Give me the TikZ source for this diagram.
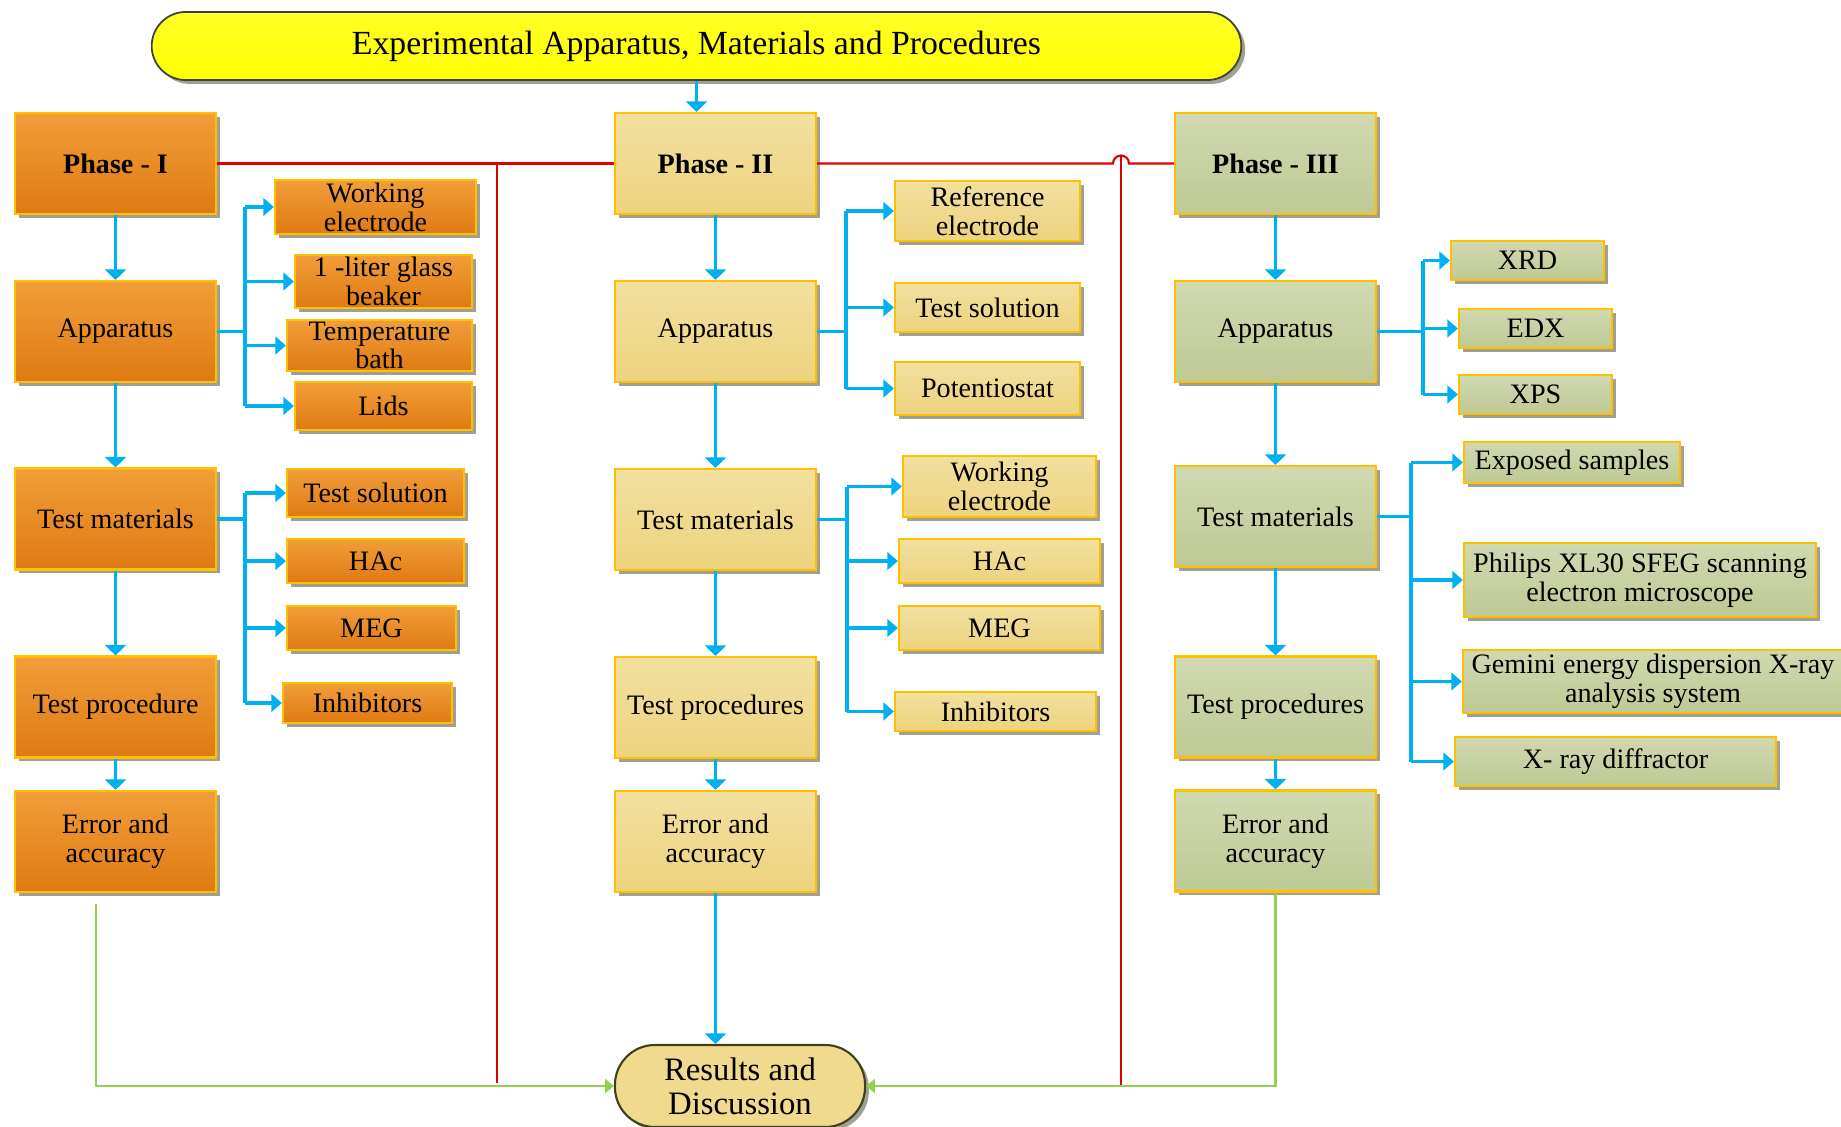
\documentclass[tikz,border=0pt]{standalone}
\usepackage{fontspec}
\setmainfont{Liberation Serif}
\usetikzlibrary{arrows.meta,shadows}
\definecolor{orangetop}{RGB}{241,158,58}
\definecolor{orangebot}{RGB}{223,122,18}
\definecolor{wheattop}{RGB}{242,224,160}
\definecolor{wheatbot}{RGB}{237,211,126}
\definecolor{sagetop}{RGB}{208,217,176}
\definecolor{sagebot}{RGB}{190,201,148}
\definecolor{boxedge}{RGB}{255,192,0}
\definecolor{shadowgray}{RGB}{160,160,146}
\definecolor{flowblue}{RGB}{0,176,240}
\definecolor{sepred}{RGB}{225,0,0}
\definecolor{fbgreen}{RGB}{146,208,80}
\definecolor{resfill}{RGB}{240,218,142}
\definecolor{resedge}{RGB}{60,64,30}
\tikzset{
    cellbox/.style={draw=boxedge, line width=0.6pt, align=center, inner sep=0.5pt,
        font=\fontsize{8}{8.2}\selectfont,
        drop shadow={shadow xshift=1.1pt, shadow yshift=-1.1pt, fill=shadowgray, opacity=1}},
    mainbox/.style={cellbox, minimum width=2.01cm, minimum height=1.01cm},
    phasename/.style={font=\fontsize{8}{8.2}\selectfont\bfseries},
    phaseone/.style={top color=orangetop, bottom color=orangebot},
    phasetwo/.style={top color=wheattop, bottom color=wheatbot},
    phasethree/.style={top color=sagetop, bottom color=sagebot},
    titlebox/.style={draw=black!75, line width=0.5pt, top color=yellow!85!white, bottom color=yellow,
        minimum width=10.89cm, minimum height=0.68cm, rounded corners=0.34cm,
        font=\fontsize{9.6}{10}\selectfont,
        drop shadow={shadow xshift=1.1pt, shadow yshift=-1.1pt, fill=shadowgray, opacity=1}},
    resbox/.style={draw=resedge, line width=0.6pt, fill=resfill, align=center,
        minimum width=2.5cm, minimum height=0.82cm, rounded corners=0.4cm,
        font=\fontsize{9.3}{9.6}\selectfont,
        drop shadow={shadow xshift=1.1pt, shadow yshift=-1.1pt, fill=shadowgray, opacity=1}},
    flow/.style={draw=flowblue, line width=1.1pt, -{Triangle[width=6pt,length=3pt]}},
    sideflow/.style={draw=flowblue, line width=1.1pt, -{Triangle[width=5pt,length=3pt]}},
    bus/.style={draw=flowblue, line width=1.1pt},
    sepline/.style={draw=sepred, line width=0.6pt},
    feedback/.style={draw=fbgreen, line width=0.6pt, -{Triangle[width=4pt,length=2.5pt]}},
}

\begin{document}
\begin{tikzpicture}[x=0.01cm, y=-0.01cm]
    \useasboundingbox (0,0) rectangle (1841,1127);

    \node[titlebox] (top) at (696.5,46) {Experimental Apparatus, Materials and Procedures};

    % Phase I column
    \node[mainbox, phaseone, phasename] (p1) at (115.5,163.5) {Phase - I};
    \node[mainbox, phaseone] (app1) at (115.5,331.5) {Apparatus};
    \node[mainbox, phaseone] (tm1) at (115.5,519) {Test materials};
    \node[mainbox, phaseone] (tp1) at (115.5,707) {Test procedure};
    \node[mainbox, phaseone] (ea1) at (115.5,841.5) {Error and\\accuracy};

    \node[cellbox, phaseone, minimum width=2.01cm, minimum height=0.54cm] (we1) at (375.5,207) {Working\\electrode};
    \node[cellbox, phaseone, minimum width=1.77cm, minimum height=0.53cm] (bk1) at (383.5,281.5) {1 -liter glass\\beaker};
    \node[cellbox, phaseone, minimum width=1.85cm, minimum height=0.49cm] (tb1) at (379.5,345.5) {Temperature\\bath};
    \node[cellbox, phaseone, minimum width=1.77cm, minimum height=0.48cm] (lid1) at (383.5,406) {Lids};
    \node[cellbox, phaseone, minimum width=1.77cm, minimum height=0.48cm] (ts1) at (375.5,493) {Test solution};
    \node[cellbox, phaseone, minimum width=1.77cm, minimum height=0.44cm] (hac1) at (375.5,561) {HAc};
    \node[cellbox, phaseone, minimum width=1.69cm, minimum height=0.44cm] (meg1) at (371.5,628) {MEG};
    \node[cellbox, phaseone, minimum width=1.69cm, minimum height=0.40cm] (inh1) at (367.5,703) {Inhibitors};

    % Phase II column
    \node[mainbox, phasetwo, phasename] (p2) at (715.5,163.5) {Phase - II};
    \node[mainbox, phasetwo] (app2) at (715.5,331.5) {Apparatus};
    \node[mainbox, phasetwo] (tm2) at (715.5,519.5) {Test materials};
    \node[mainbox, phasetwo] (tp2) at (715.5,707.5) {Test procedures};
    \node[mainbox, phasetwo] (ea2) at (715.5,841.5) {Error and\\accuracy};

    \node[cellbox, phasetwo, minimum width=1.85cm, minimum height=0.60cm] (re2) at (987.5,211) {Reference\\electrode};
    \node[cellbox, phasetwo, minimum width=1.85cm, minimum height=0.49cm] (ts2) at (987.5,307.5) {Test solution};
    \node[cellbox, phasetwo, minimum width=1.85cm, minimum height=0.53cm] (pot2) at (987.5,388.5) {Potentiostat};
    \node[cellbox, phasetwo, minimum width=1.93cm, minimum height=0.61cm] (we2) at (999.5,486.5) {Working\\electrode};
    \node[cellbox, phasetwo, minimum width=2.01cm, minimum height=0.44cm] (hac2) at (999.5,561) {HAc};
    \node[cellbox, phasetwo, minimum width=2.01cm, minimum height=0.44cm] (meg2) at (999.5,628) {MEG};
    \node[cellbox, phasetwo, minimum width=2.01cm, minimum height=0.39cm] (inh2) at (995.5,711.5) {Inhibitors};

    % Phase III column
    \node[mainbox, phasethree, phasename] (p3) at (1275.5,163.5) {Phase - III};
    \node[mainbox, phasethree] (app3) at (1275.5,331.5) {Apparatus};
    \node[mainbox, phasethree] (tm3) at (1275.5,516.5) {Test materials};
    \node[mainbox, phasethree] (tp3) at (1275.5,707) {Test procedures};
    \node[mainbox, phasethree] (ea3) at (1275.5,841) {Error and\\accuracy};

    \node[cellbox, phasethree, minimum width=1.53cm, minimum height=0.39cm] (xrd3) at (1527.5,260.5) {XRD};
    \node[cellbox, phasethree, minimum width=1.53cm, minimum height=0.39cm] (edx3) at (1535.5,328.5) {EDX};
    \node[cellbox, phasethree, minimum width=1.53cm, minimum height=0.39cm] (xps3) at (1535.5,394.5) {XPS};
    \node[cellbox, phasethree, minimum width=2.16cm, minimum height=0.41cm] (exp3) at (1572,462.5) {Exposed samples};
    \node[cellbox, phasethree, minimum width=3.52cm, minimum height=0.74cm] (sem3) at (1640,580) {Philips XL30 SFEG scanning\\electron microscope};
    \node[cellbox, phasethree, minimum width=3.80cm, minimum height=0.63cm] (gem3) at (1653,681.5) {Gemini energy dispersion X-ray\\analysis system};
    \node[cellbox, phasethree, minimum width=3.21cm, minimum height=0.49cm] (xdf3) at (1615.5,761.5) {X- ray diffractor};

    \node[resbox] (res) at (740,1086) {Results and\\Discussion};

    % separators
    \coordinate (cutL) at (497,1083);
    \coordinate (cutR) at (1121,1087);
    \draw[sepline] (p1.east) -- (p2.west);
    \draw[sepline] (p1.east -| cutL) -- (cutL);
    \draw[sepline] (p2.east) -- ([xshift=-0.08cm]p2.east -| cutR) arc[start angle=180, end angle=0, radius=0.08cm] -- (p3.west);
    \draw[sepline] ([yshift=0.08cm]p2.east -| cutR) -- (cutR);

    % main flow
    \draw[flow] (top.south) -- (top.south |- p2.north);
    \foreach \c in {1,2,3} {
        \draw[flow] (p\c.south) -- (app\c.north);
        \draw[flow] (app\c.south) -- (tm\c.north);
        \draw[flow] (tm\c.south) -- (tp\c.north);
        \draw[flow] (tp\c.south) -- (ea\c.north);
    }
    \draw[flow] (ea2.south) -- (ea2.south |- res.north);

    % side buses
    \coordinate (b1) at (245,331.5);
    \draw[bus] (app1.east) -- (b1);
    \draw[bus] (b1 |- we1.west) -- (b1 |- lid1.west);
    \foreach \n in {we1,bk1,tb1,lid1} \draw[sideflow] (b1 |- \n.west) -- (\n.west);

    \coordinate (b2) at (245,519);
    \draw[bus] (tm1.east) -- (b2);
    \draw[bus] (b2 |- ts1.west) -- (b2 |- inh1.west);
    \foreach \n in {ts1,hac1,meg1,inh1} \draw[sideflow] (b2 |- \n.west) -- (\n.west);

    \coordinate (b3) at (846,331.5);
    \draw[bus] (app2.east) -- (b3);
    \draw[bus] (b3 |- re2.west) -- (b3 |- pot2.west);
    \foreach \n in {re2,ts2,pot2} \draw[sideflow] (b3 |- \n.west) -- (\n.west);

    \coordinate (b4) at (847,519.5);
    \draw[bus] (tm2.east) -- (b4);
    \draw[bus] (b4 |- we2.west) -- (b4 |- inh2.west);
    \foreach \n in {we2,hac2,meg2,inh2} \draw[sideflow] (b4 |- \n.west) -- (\n.west);

    \coordinate (b5) at (1423,331.5);
    \draw[bus] (app3.east) -- (b5);
    \draw[bus] (b5 |- xrd3.west) -- (b5 |- xps3.west);
    \foreach \n in {xrd3,edx3,xps3} \draw[sideflow] (b5 |- \n.west) -- (\n.west);

    \coordinate (b6) at (1411,516.5);
    \draw[bus] (tm3.east) -- (b6);
    \draw[bus] (b6 |- exp3.west) -- (b6 |- xdf3.west);
    \foreach \n in {exp3,sem3,gem3,xdf3} \draw[sideflow] (b6 |- \n.west) -- (\n.west);

    % back to results
    \coordinate (fbL) at (96,904);
    \draw[feedback] (fbL) |- (res.west);
    \draw[feedback] (ea3.south) |- (res.east);

\end{tikzpicture}
\end{document}
